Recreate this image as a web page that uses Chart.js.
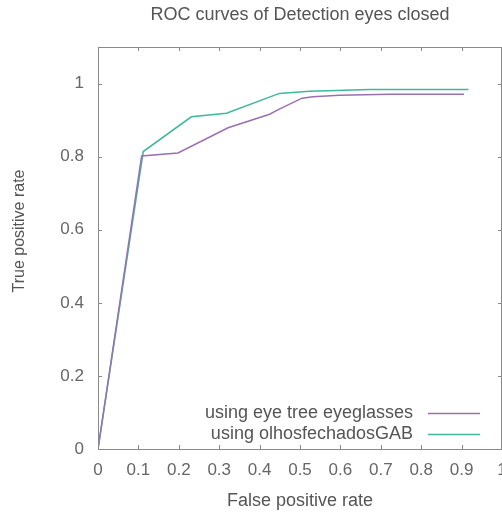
<!DOCTYPE html>
<html>
<head>
<meta charset="utf-8">
<script src="https://cdn.jsdelivr.net/npm/chart.js@4.4.1/dist/chart.umd.min.js"></script>
<style>
  html, body { margin: 0; padding: 0; background: #fff; }
  #box { width: 502px; height: 515px; overflow: hidden; }
</style>
</head>
<body>
<div id="box"><canvas id="rocChart"></canvas></div>
<script>
'use strict';

// --- data ---
const chartTitle = 'ROC curves of Detection eyes closed';
const seriesNames = ['using eye tree eyeglasses', 'using olhosfechadosGAB'];
const fprEye = [0, 0.108, 0.198, 0.322, 0.425, 0.445, 0.505, 0.532, 0.598, 0.721, 0.906];
const tprEye = [0, 0.802, 0.810, 0.879, 0.916, 0.928, 0.960, 0.964, 0.968, 0.971, 0.971];
const fprGab = [0, 0.112, 0.231, 0.318, 0.449, 0.523, 0.589, 0.672, 0.917];
const tprGab = [0, 0.814, 0.909, 0.919, 0.973, 0.979, 0.981, 0.984, 0.984];
const xTicks = [0, 0.1, 0.2, 0.3, 0.4, 0.5, 0.6, 0.7, 0.8, 0.9, 1];
const yTicks = [0, 0.2, 0.4, 0.6, 0.8, 1];

const colorEye = '#9a70ad';
const colorGab = '#3fb89b';
const textColor = '#555';
const tickColor = '#666';
const frameColor = '#8a8a8a';
const fontFamily = "'Liberation Sans', Arial, sans-serif";

const toPoints = (xs, ys) => xs.map((x, i) => ({ x: x, y: ys[i] }));

// gnuplot-like frame with inward ticks on all four sides
const framePlugin = {
    id: 'frame',
    afterDatasetsDraw(chart) {
        const { ctx, chartArea: a, scales } = chart;
        const len = 4;
        ctx.save();
        ctx.strokeStyle = frameColor;
        ctx.lineWidth = 1;
        ctx.strokeRect(a.left + 0.5, a.top + 0.5, a.right - a.left - 1, a.bottom - a.top);
        ctx.beginPath();
        xTicks.forEach(v => {
            const px = Math.round(scales.x.getPixelForValue(v)) + 0.5;
            ctx.moveTo(px, a.bottom); ctx.lineTo(px, a.bottom - len);
            ctx.moveTo(px, a.top); ctx.lineTo(px, a.top + len);
        });
        yTicks.forEach(v => {
            const py = Math.round(scales.y.getPixelForValue(v)) + 0.5;
            ctx.moveTo(a.left, py); ctx.lineTo(a.left + len, py);
            ctx.moveTo(a.right, py); ctx.lineTo(a.right - len, py);
        });
        ctx.stroke();
        ctx.restore();
    }
};

// legend in the lower right: text first, then a line sample
const keyPlugin = {
    id: 'key',
    afterDraw(chart) {
        const { ctx } = chart;
        ctx.save();
        ctx.font = '18px ' + fontFamily;
        ctx.textAlign = 'right';
        ctx.textBaseline = 'middle';
        chart.data.datasets.forEach((ds, i) => {
            const y = 413 + i * 21;
            ctx.fillStyle = textColor;
            ctx.fillText(ds.label, 413, y);
            ctx.strokeStyle = ds.borderColor;
            ctx.lineWidth = 1.5;
            ctx.beginPath();
            ctx.moveTo(428, y + 0.5);
            ctx.lineTo(480, y + 0.5);
            ctx.stroke();
        });
        // y axis label, placed like the original
        ctx.translate(20, 231);
        ctx.rotate(-Math.PI / 2);
        ctx.textAlign = 'center';
        ctx.font = '16px ' + fontFamily;
        ctx.fillStyle = textColor;
        ctx.fillText('True positive rate', 0, 0);
        ctx.restore();
    }
};

const ctx = document.getElementById('rocChart');
new Chart(ctx, {
    type: 'scatter',
    data: {
        datasets: [{
            label: seriesNames[0],
            data: toPoints(fprEye, tprEye),
            borderColor: colorEye,
            backgroundColor: colorEye,
            showLine: true,
            borderWidth: 1.5,
            pointRadius: 0,
            tension: 0
        }, {
            label: seriesNames[1],
            data: toPoints(fprGab, tprGab),
            borderColor: colorGab,
            backgroundColor: colorGab,
            showLine: true,
            borderWidth: 1.5,
            pointRadius: 0,
            tension: 0
        }]
    },
    options: {
        responsive: true, maintainAspectRatio: false,
        animation: false,
        layout: { padding: 0 },
        plugins: {
            legend: { display: false },
            tooltip: { enabled: false },
            title: {
                display: true,
                fullSize: false,
                text: chartTitle,
                color: textColor,
                font: { family: fontFamily, size: 18, weight: 'normal' },
                padding: { top: 4, bottom: 21.4 }
            }
        },
        scales: {
            x: {
                type: 'linear', min: 0, max: 1,
                grid: { display: false, drawTicks: false },
                border: { display: false },
                afterBuildTicks: s => { s.ticks = xTicks.map(v => ({ value: v })); },
                // let the plot run to the right edge, the last label gets cut like the original
                afterFit: s => { s.height = 66; s.paddingRight = 0; s.paddingLeft = 0; },
                ticks: {
                    color: tickColor, padding: 11, autoSkip: false, maxRotation: 0,
                    font: { family: fontFamily, size: 17 },
                    callback: v => String(v)
                },
                title: {
                    display: true, text: 'False positive rate', color: textColor,
                    font: { family: fontFamily, size: 18 },
                    padding: { top: 0, bottom: 3.5 }
                }
            },
            y: {
                type: 'linear', min: 0, max: 1.1,
                grid: { display: false, drawTicks: false },
                border: { display: false },
                afterBuildTicks: s => { s.ticks = yTicks.map(v => ({ value: v })); },
                afterFit: s => { s.width = 98; },
                ticks: {
                    color: tickColor, padding: 14,
                    font: { family: fontFamily, size: 17 },
                    callback: v => String(v)
                }
            }
        }
    },
    plugins: [framePlugin, keyPlugin]
});
</script>
</body>
</html>
